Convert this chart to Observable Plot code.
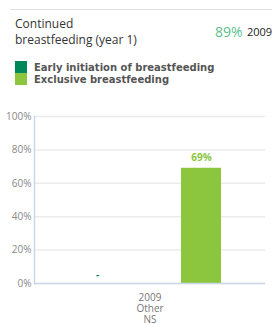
<!DOCTYPE html>
<html><head><meta charset="utf-8">
<script src="https://cdn.jsdelivr.net/npm/d3@7"></script>
<script src="https://cdn.jsdelivr.net/npm/@observablehq/plot@0.6"></script>
<style>
body{margin:0;width:272px;height:324px;overflow:hidden;background:#fff;font-family:"Open Sans",sans-serif;position:relative}
#topline{position:absolute;left:10px;right:0;top:9px;border-top:1px solid #e0e0e0}
#title{position:absolute;left:15px;top:16px;font-size:12px;line-height:16px;color:#333}
#headline{position:absolute;left:215px;top:22px;font-size:14px;color:#5cbf8e}
#year{position:absolute;left:247px;top:24px;font-size:11px;color:#222}
#legend{position:absolute;left:15px;top:61px;font-size:10px;font-weight:bold;color:#555;font-family:"DejaVu Sans",sans-serif}
.li{display:flex;align-items:center;height:12px}
.sw{width:12px;height:12px;margin-right:7px}
#chart{position:absolute;left:0;top:100px}
</style></head><body>
<div id="topline"></div>
<div id="title"></div>
<div id="headline"></div>
<div id="year"></div>
<div id="legend"></div>
<div id="chart"></div>
<script>
const titleLines = ["Continued", "breastfeeding (year 1)"];
const headlineValue = 89;
const headlineYear = "2009";
const series = ["Early initiation of breastfeeding", "Exclusive breastfeeding"];
const values = [null, 69];
const colors = ["#00875a", "#8cc63f"];
const category = "2009\nOther\nNS";
const yTicks = [0, 20, 40, 60, 80, 100];

document.getElementById("title").innerHTML = titleLines.join("<br>");
document.getElementById("headline").textContent = headlineValue + "%";
document.getElementById("year").textContent = headlineYear;
document.getElementById("legend").innerHTML = series.map((s, i) =>
  `<div class="li"><div class="sw" style="background:${colors[i]}"></div>${s}</div>`).join("");

const data = series.map((s, i) => ({cat: category, series: s, value: values[i]}));
const present = data.filter(d => d.value != null);
const missing = data.filter(d => d.value == null);

const chart = Plot.plot({
  width: 272, height: 224,
  marginTop: 16, marginBottom: 41, marginLeft: 34, marginRight: 7,
  style: {fontFamily: "Open Sans, sans-serif", fontSize: "10px", color: "#666", overflow: "visible"},
  fx: {domain: [category], padding: 0, label: null, axis: null},
  x: {domain: series, paddingInner: 0.615, paddingOuter: 0.418, axis: null},
  y: {domain: [0, 100], ticks: yTicks, label: null},
  color: {domain: series, range: colors},
  marks: [
    Plot.gridY(yTicks, {stroke: "#ebebeb", strokeOpacity: 1, strokeWidth: 1.5}),
    Plot.axisY(yTicks, {tickSize: 0, tickPadding: 3, tickFormat: d => d + "%", fill: "#888", label: null}),
    Plot.text([category], {fx: d => d, text: d => d, frameAnchor: "bottom", lineAnchor: "top", dy: 10, fontSize: 10, lineHeight: 1.1, fill: "#777"}),
    Plot.barY(present, {fx: "cat", x: "series", y: "value", fill: "series"}),
    Plot.text(present, {fx: "cat", x: "series", y: "value", text: d => d.value + "%", dy: -10, fill: "series", fontWeight: "bold", fontSize: 10}),
    Plot.text(missing, {fx: "cat", x: "series", y: 0, text: () => "-", dy: -9, fill: "series", fontWeight: "bold", fontSize: 10}),
    Plot.ruleY([0], {stroke: "#c9d7e8", strokeWidth: 1.5}),
    Plot.frame({anchor: "left", stroke: "#c9d7e8", strokeWidth: 1.5})
  ]
});
document.getElementById("chart").appendChild(chart);
</script>
</body></html>
